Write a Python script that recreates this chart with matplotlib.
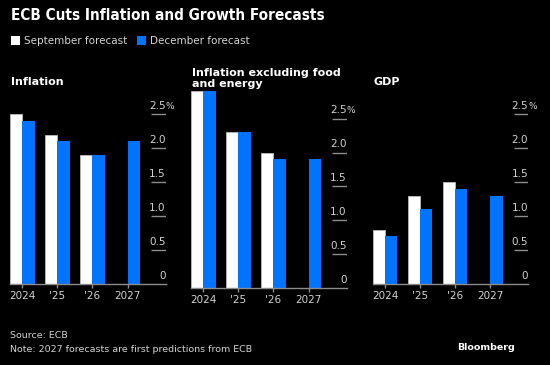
import matplotlib
matplotlib.use("Agg")
import matplotlib.pyplot as plt
import numpy as np

# data (percent)
years = ["2024", "'25", "'26", "2027"]
panel_titles = ["Inflation", "Inflation excluding food\nand energy", "GDP"]
sept = [
    [2.5, 2.2, 1.9],   # headline inflation
    [2.9, 2.3, 2.0],   # core inflation
    [0.8, 1.3, 1.5],   # GDP
]
dec = [
    [2.4, 2.1, 1.9, 2.1],
    [2.9, 2.3, 1.9, 1.9],
    [0.7, 1.1, 1.4, 1.3],
]
yticks = [0, 0.5, 1.0, 1.5, 2.0, 2.5]
ytick_labels = ["0", "0.5", "1.0", "1.5", "2.0", "2.5"]

BG = "#000000"
BLUE = "#0073ff"
GREY = "#8c8c8c"
LABEL = "#d2d2d2"

W, H = 550, 365
fig = plt.figure(figsize=(5.5, 3.65), dpi=100, facecolor=BG)

def px(x, y):
    return x / W, (H - y) / H

fig.text(*px(11, 15), "ECB Cuts Inflation and Growth Forecasts", color="white",
         fontsize=11, fontweight="bold", fontstretch="condensed",
         va="center", ha="left")

# legend
fig.patches.append(plt.Rectangle(px(11, 45), 9 / W, 9 / H, transform=fig.transFigure,
                                 facecolor="white", edgecolor="none"))
fig.text(*px(24, 40.5), "September forecast", color=LABEL, fontsize=7.5, va="center")
fig.patches.append(plt.Rectangle(px(137, 45), 9 / W, 9 / H, transform=fig.transFigure,
                                 facecolor=BLUE, edgecolor="none"))
fig.text(*px(150, 40.5), "December forecast", color=LABEL, fontsize=7.5, va="center")

unit = 67.9       # pixels per percentage point
ytop = 2.95
lefts = [10, 191, 372.7]
bases = [284, 288.3, 284]
title_y = [82, 78.5, 82]
x = np.arange(len(years))
bw = 0.35
xmax = 4.08

for i in range(3):
    l, b = lefts[i], bases[i]
    ax = fig.add_axes([l / W, (H - b) / H, 155.5 / W, ytop * unit / H])
    ax.set_facecolor(BG)
    ax.bar(x[:3] - bw / 2, sept[i], width=bw, color="white", edgecolor="#bbbbbb",
           linewidth=0.6, zorder=2)
    ax.bar(x + bw / 2, dec[i], width=bw, color=BLUE, edgecolor="none", zorder=2)
    ax.set_xlim(-0.35, xmax)
    ax.set_ylim(0, ytop)
    for s in ["top", "left", "right"]:
        ax.spines[s].set_visible(False)
    ax.spines["bottom"].set_color(GREY)
    ax.spines["bottom"].set_linewidth(1)
    ax.set_xticks(x)
    ax.set_xticklabels(years)
    ax.tick_params(axis="x", colors=GREY, labelcolor=LABEL, labelsize=7.5,
                   length=3, width=1, pad=2)
    ax.set_yticks([])
    ax.hlines(yticks[1:], xmax - 0.4, xmax, color=GREY, lw=1, zorder=1)
    for v, lab in zip(yticks, ytick_labels):
        ax.annotate(lab, (xmax, v), xytext=(0, 2.5), textcoords="offset points",
                    ha="right", va="bottom", color=LABEL, fontsize=7.5,
                    annotation_clip=False)
    ax.annotate("%", (xmax, yticks[-1]), xytext=(0, 2.5), textcoords="offset points",
                ha="left", va="bottom", color=LABEL, fontsize=6.5,
                annotation_clip=False)
    fig.text(*px(l + 1, title_y[i]), panel_titles[i], color="white", fontsize=8,
             fontweight="bold", va="center", ha="left", linespacing=1.1)

fig.text(*px(10, 336), "Source: ECB", color=LABEL, fontsize=6.8, va="center")
fig.text(*px(10, 349), "Note: 2027 forecasts are first predictions from ECB",
         color=LABEL, fontsize=6.8, va="center")
fig.text(*px(515, 347), "Bloomberg", color="white", fontsize=6.8, fontweight="bold",
         va="center", ha="right")

fig.savefig("out.png", dpi=100, facecolor=BG)
